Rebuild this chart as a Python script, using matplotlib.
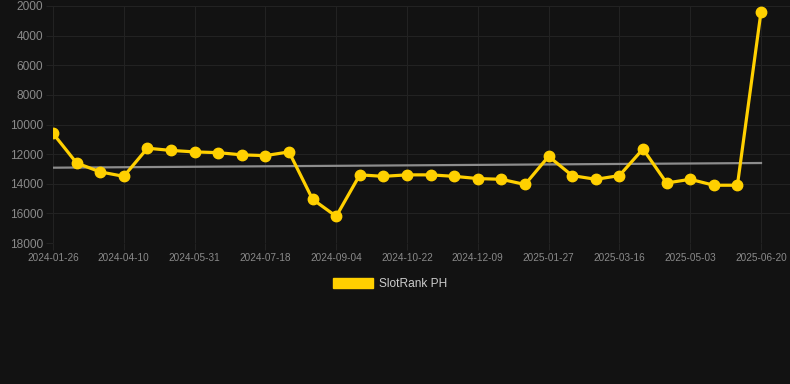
import numpy as np
import matplotlib
matplotlib.use('Agg')
import matplotlib.pyplot as plt
from matplotlib.patches import Patch

# data (rank, lower is better -> inverted axis)
DATES = ['2024-01-26', '2024-02-20', '2024-03-16', '2024-04-10', '2024-04-27',
         '2024-05-14', '2024-05-31', '2024-06-16', '2024-07-02', '2024-07-18',
         '2024-08-03', '2024-08-19', '2024-09-04', '2024-09-20', '2024-10-06',
         '2024-10-22', '2024-11-07', '2024-11-23', '2024-12-09', '2024-12-25',
         '2025-01-11', '2025-01-27', '2025-02-12', '2025-02-28', '2025-03-16',
         '2025-04-01', '2025-04-17', '2025-05-03', '2025-05-19', '2025-06-04',
         '2025-06-20']
RANK = [10600, 12600, 13200, 13500, 11600, 11750, 11850, 11900, 12050, 12100,
        11850, 15050, 16200, 13400, 13500, 13400, 13400, 13500, 13650, 13700,
        14050, 12150, 13450, 13700, 13450, 11650, 13950, 13700, 14100, 14100,
        2400]
SERIES = 'SlotRank PH'

BG = '#121212'
GRID = '#222222'
TICK_C = '#8a8a8a'
YELLOW = '#FFD000'

plt.rcParams.update({'font.family': ['Liberation Sans', 'DejaVu Sans']})

fig = plt.figure(figsize=(7.9, 3.84), dpi=100, facecolor=BG)
ax = fig.add_axes([53/790, 141/384, 737/790, 237/384], facecolor=BG)

x = np.arange(len(RANK))
y = np.array(RANK, dtype=float)

# trend line (least squares)
k, b = np.polyfit(x, y, 1)
ax.plot(x, k*x + b, color='#8c8c8c', lw=1.6, zorder=3)

ax.plot(x, y, color=YELLOW, lw=2.3, marker='o', ms=7.5, mfc=YELLOW, mec=YELLOW, zorder=4)

ax.set_ylim(18000, 2000)
ax.set_yticks(np.arange(2000, 18001, 2000))
ax.set_xlim(0, 30 + 29/23.6)
ax.set_xticks(x[::3])
ax.set_xticklabels(DATES[::3])

ax.grid(True, color=GRID, lw=0.8)
for s in ax.spines.values():
    s.set_visible(False)
ax.tick_params(axis='y', colors=GRID, labelcolor=TICK_C, labelsize=8.6, length=5, width=0.8, pad=2)
ax.tick_params(axis='x', colors=GRID, labelcolor=TICK_C, labelsize=7.2, length=5, width=0.8, pad=2)

fig.legend([Patch(facecolor=YELLOW, edgecolor=YELLOW)], [SERIES],
           loc='center', bbox_to_anchor=(0.5 - 5/790, 1 - 284/384), frameon=False,
           fontsize=8.6, labelcolor='#cccccc', handlelength=3.4, handleheight=0.9,
           handletextpad=0.5)

fig.savefig('out.png', dpi=100, facecolor=BG)
